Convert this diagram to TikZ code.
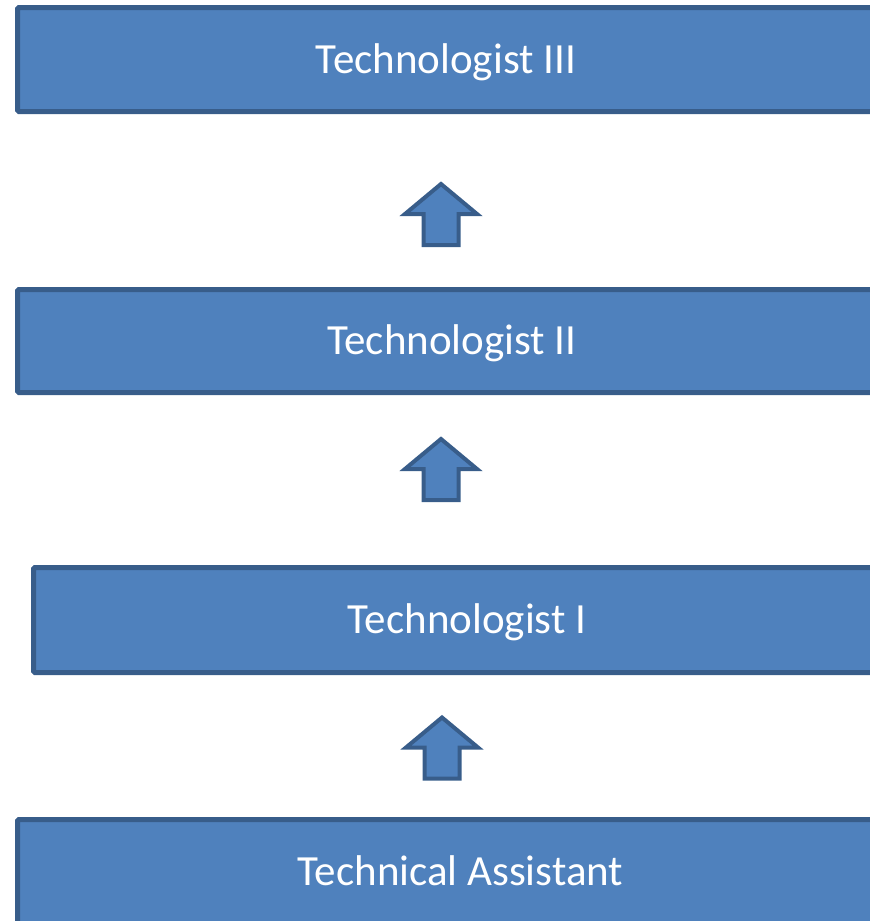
\documentclass[tikz,border=0pt]{standalone}
\usepackage{fontspec}
\setmainfont{Carlito}
\usepackage{tikz}
\usepackage{xcolor}
\definecolor{boxfill}{HTML}{4F81BD}
\definecolor{boxline}{HTML}{385D8A}

\begin{document}
\begin{tikzpicture}[x=1pt, y=1pt,
    level/.style = {shape=rectangle, rounded corners=1.5pt,
      draw=boxline, fill=boxfill, line width=5pt,
      text=white, font=\fontsize{43}{43}\selectfont,
      text height=27pt, text depth=0pt, inner sep=0pt},
    uparrow/.pic = {
      \draw[draw=boxline, fill=boxfill, line width=4pt]
        (-17.5,-31) -- (-17.5,0) -- (-36,0) -- (0,30) -- (36,0)
        -- (17.5,0) -- (17.5,-31) -- cycle;}
    ]
    \useasboundingbox (0,0) rectangle (870,-921);
    \node[level, minimum width=857pt, minimum height=104pt] (tech3) at (446,-59.5) {Technologist III};
    \node[level, minimum width=869pt, minimum height=103pt] (tech2) at (452,-341) {Technologist II};
    \node[level, minimum width=867pt, minimum height=105pt] (tech1) at (467,-620) {Technologist I};
    \node[level, minimum width=886pt, minimum height=105pt] (assist) at (460.5,-872) {Technical Assistant};
    \coordinate (up3) at (441,-214);
    \coordinate (up2) at (441,-469);
    \coordinate (up1) at (442,-747.5);
    \path (up3) pic {uparrow};
    \path (up2) pic {uparrow};
    \path (up1) pic {uparrow};
  \end{tikzpicture}
\end{document}
